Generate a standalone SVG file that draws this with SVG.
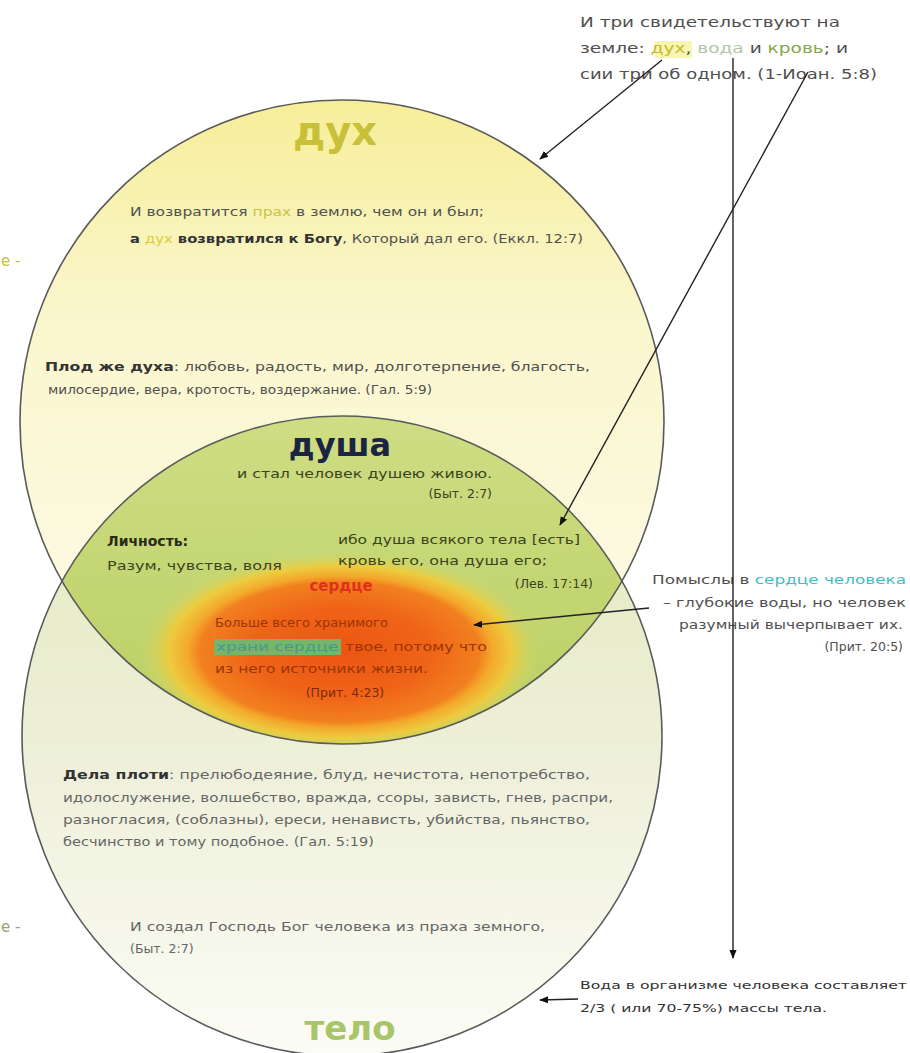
<svg xmlns="http://www.w3.org/2000/svg" width="910" height="1053" viewBox="0 0 910 1053">
<style>
.t{font-family:"DejaVu Sans","Liberation Sans",sans-serif;font-size:12.5px;fill:#505050}
.b{font-weight:bold;fill:#333}
.g{fill:#3a4420}
.o{fill:#9c3404}
.p{fill:#666}
.h{font-family:"DejaVu Sans","Liberation Sans",sans-serif;font-weight:bold}
.ln{stroke:#222;stroke-width:1.4;fill:none}
.edge{fill:none;stroke:#5a5a5a;stroke-width:1.6}
</style>
<defs>
<marker id="ah" viewBox="0 0 10 10" refX="9" refY="5" markerWidth="9" markerHeight="9" orient="auto" markerUnits="userSpaceOnUse">
<path d="M0,1 L10,5 L0,9 z" fill="#111"/>
</marker>
<linearGradient id="gUp" x1="0" y1="100" x2="0" y2="700" gradientUnits="userSpaceOnUse">
<stop offset="0" stop-color="#f6ee98"/>
<stop offset="0.35" stop-color="#faf6cc"/>
<stop offset="1" stop-color="#fdfbea"/>
</linearGradient>
<linearGradient id="gLow" x1="0" y1="420" x2="0" y2="1055" gradientUnits="userSpaceOnUse">
<stop offset="0" stop-color="#e2e8b8"/>
<stop offset="0.55" stop-color="#eef0da"/>
<stop offset="1" stop-color="#fcfcf6"/>
</linearGradient>
<linearGradient id="gLens" x1="0" y1="415" x2="0" y2="745" gradientUnits="userSpaceOnUse">
<stop offset="0" stop-color="#cfdd84"/>
<stop offset="1" stop-color="#b9cf62"/>
</linearGradient>
<radialGradient id="gHeart" cx="340" cy="652" r="200" gradientUnits="userSpaceOnUse" gradientTransform="translate(340 652) scale(1 0.5) translate(-340 -652)">
<stop offset="0" stop-color="#ec5512"/>
<stop offset="0.45" stop-color="#ef6418"/>
<stop offset="0.7" stop-color="#f2801f"/>
<stop offset="0.76" stop-color="#f3a82c"/>
<stop offset="0.86" stop-color="#edcb3e"/>
<stop offset="1" stop-color="#cfd86a" stop-opacity="0"/>
</radialGradient>
<clipPath id="cUp"><circle cx="342" cy="422" r="322"/></clipPath>
</defs>
<rect width="910" height="1053" fill="#ffffff"/>

<g id="telo">
<circle cx="342" cy="736" r="320" fill="url(#gLow)"/>
</g>
<g id="duh">
<circle cx="342" cy="422" r="322" fill="url(#gUp)"/>
</g>
<g id="dusha">
<circle cx="342" cy="736" r="320" fill="url(#gLens)" clip-path="url(#cUp)"/>
</g>
<g id="serdce">
<ellipse cx="340" cy="652" rx="205" ry="104" fill="url(#gHeart)" clip-path="url(#cUp)"/>
</g>
<g id="outlines">
<circle class="edge" cx="342" cy="422" r="322"/>
<circle class="edge" cx="342" cy="736" r="320"/>
</g>

<g id="duh-text">
<text class="h" x="335" y="145" font-size="40" fill="#c9c03a" text-anchor="middle">дух</text>
<text class="t" x="130" y="216" style="font-size:11.5px" textLength="354" lengthAdjust="spacingAndGlyphs">И возвратится <tspan fill="#c8c444">прах</tspan> в землю, чем он и был;</text>
<text class="t" x="130" y="243" style="font-size:11.5px" textLength="453" lengthAdjust="spacingAndGlyphs"><tspan class="b">а </tspan><tspan fill="#d8cc40">дух</tspan><tspan class="b"> возвратился к Богу</tspan>, Который дал его. (Еккл. 12:7)</text>
<text class="t" x="45" y="371" textLength="545" lengthAdjust="spacingAndGlyphs"><tspan class="b">Плод же духа</tspan>: любовь, радость, мир, долготерпение, благость,</text>
<text class="t" x="48" y="394" textLength="384" lengthAdjust="spacingAndGlyphs">милосердие, вера, кротость, воздержание. (Гал. 5:9)</text>
</g>

<g id="dusha-text">
<text class="h" x="340" y="456" font-size="32" fill="#1c2444" text-anchor="middle">душа</text>
<text class="t g" x="237" y="478" style="font-size:12px" textLength="255" lengthAdjust="spacingAndGlyphs">и стал человек душею живою.</text>
<text class="t g" x="492" y="498" text-anchor="end">(Быт. 2:7)</text>
<text class="t b" x="107" y="546" style="font-size:14px;fill:#2a2a18">Личность:</text>
<text class="t g" x="107" y="570" textLength="175" lengthAdjust="spacingAndGlyphs">Разум, чувства, воля</text>
<text class="t g" x="338" y="544" textLength="242" lengthAdjust="spacingAndGlyphs">ибо душа всякого тела [есть]</text>
<text class="t g" x="338" y="565" textLength="209" lengthAdjust="spacingAndGlyphs">кровь его, она душа его;</text>
<text class="t g" x="593" y="588" text-anchor="end">(Лев. 17:14)</text>
</g>

<g id="serdce-text">
<text class="h" x="341" y="591" font-size="15" fill="#e0301a" text-anchor="middle">сердце</text>
<text class="t o" x="215" y="627" textLength="173" lengthAdjust="spacingAndGlyphs">Больше всего хранимого</text>
<rect x="214" y="639" width="127" height="16" fill="#78b46a"/>
<text class="t" x="216" y="651" style="fill:#3e9c92" textLength="122" lengthAdjust="spacingAndGlyphs">храни сердце</text>
<text class="t o" x="345" y="651" textLength="142" lengthAdjust="spacingAndGlyphs">твое, потому что</text>
<text class="t o" x="215" y="673" textLength="213" lengthAdjust="spacingAndGlyphs">из него источники жизни.</text>
<text class="t" x="345" y="697" text-anchor="middle" style="fill:#7c2a02">(Прит. 4:23)</text>
</g>

<g id="telo-text">
<text class="t p" x="63" y="779" textLength="527" lengthAdjust="spacingAndGlyphs"><tspan class="b">Дела плоти</tspan>: прелюбодеяние, блуд, нечистота, непотребство,</text>
<text class="t p" x="63" y="802" textLength="550" lengthAdjust="spacingAndGlyphs">идолослужение, волшебство, вражда, ссоры, зависть, гнев, распри,</text>
<text class="t p" x="63" y="824" textLength="527" lengthAdjust="spacingAndGlyphs">разногласия, (соблазны), ереси, ненависть, убийства, пьянство,</text>
<text class="t p" x="63" y="846" textLength="311" lengthAdjust="spacingAndGlyphs">бесчинство и тому подобное. (Гал. 5:19)</text>
<text class="t p" x="130" y="931" textLength="415" lengthAdjust="spacingAndGlyphs">И создал Господь Бог человека из праха земного,</text>
<text class="t p" x="130" y="953">(Быт. 2:7)</text>
<text class="h" x="350" y="1040" font-size="34" fill="#a9c56a" text-anchor="middle">тело</text>
</g>

<g id="notes">
<text class="t" x="580" y="27" style="font-size:14px" textLength="260" lengthAdjust="spacingAndGlyphs">И три свидетельствуют на</text>
<rect x="655" y="41" width="37" height="17" fill="#f6f2a0" opacity="0.8"/>
<text class="t" x="580" y="53" style="font-size:14px" textLength="268" lengthAdjust="spacingAndGlyphs">земле: <tspan fill="#c8b830">дух</tspan>, <tspan fill="#b0c8a8">вода</tspan> и <tspan fill="#86a84a">кровь</tspan>; и</text>
<text class="t" x="580" y="79" style="font-size:14px" textLength="297" lengthAdjust="spacingAndGlyphs">сии три об одном. (1-Иоан. 5:8)</text>
<text class="t" x="906" y="584" text-anchor="end" textLength="254" lengthAdjust="spacingAndGlyphs">Помыслы в <tspan fill="#40c0c0">сердце человека</tspan></text>
<text class="t" x="906" y="607" text-anchor="end" textLength="243" lengthAdjust="spacingAndGlyphs">– глубокие воды, но человек</text>
<text class="t" x="903" y="629" text-anchor="end" textLength="224" lengthAdjust="spacingAndGlyphs">разумный вычерпывает их.</text>
<text class="t" x="903" y="651" text-anchor="end">(Прит. 20:5)</text>
<text class="t" x="580" y="989" style="font-size:11px;fill:#333" textLength="327" lengthAdjust="spacingAndGlyphs">Вода в организме человека составляет</text>
<text class="t" x="580" y="1012" style="font-size:11px;fill:#333" textLength="247" lengthAdjust="spacingAndGlyphs">2/3 ( или 70-75%) массы тела.</text>
<text class="t" x="1" y="266" style="font-size:15px;fill:#c8c040">е -</text>
<text class="t" x="1" y="932" style="font-size:15px;fill:#9aa070">е -</text>
</g>

<g id="connectors">
<line class="ln" x1="662" y1="60" x2="540" y2="159" marker-end="url(#ah)"/>
<line class="ln" x1="733" y1="58" x2="733" y2="958" marker-end="url(#ah)"/>
<line class="ln" x1="808" y1="72" x2="560" y2="525" marker-end="url(#ah)"/>
<line class="ln" x1="649" y1="608" x2="474" y2="625" marker-end="url(#ah)"/>
<line class="ln" x1="578" y1="999" x2="540" y2="1000" marker-end="url(#ah)"/>
</g>
</svg>
